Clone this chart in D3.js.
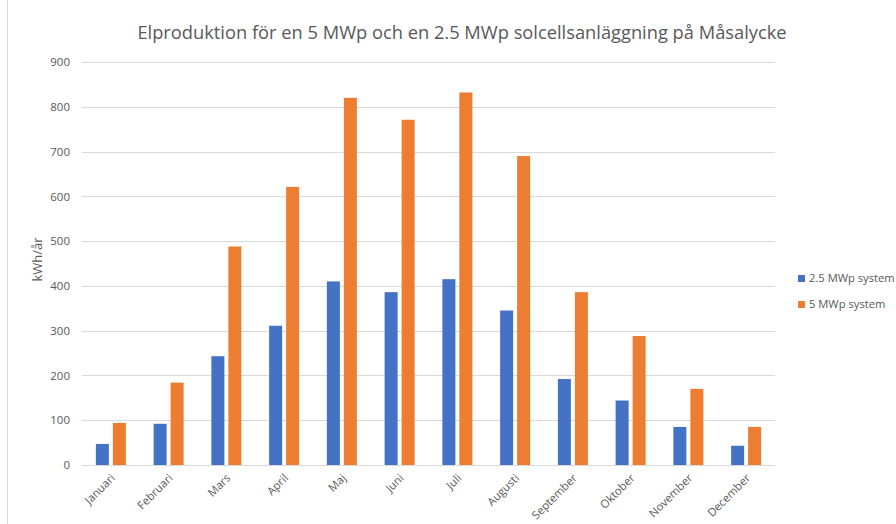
<!DOCTYPE html>
<html>
<head>
<meta charset="utf-8">
<script src="https://cdn.jsdelivr.net/npm/d3@7"></script>
<style>
  html, body { margin: 0; padding: 0; background: #fff; }
  svg { display: block; font-family: "Open Sans", "Noto Sans", sans-serif; }
</style>
</head>
<body>
<svg id="chart" width="896" height="524"></svg>
<script>
const months = ["Januari","Februari","Mars","April","Maj","Juni","Juli","Augusti","September","Oktober","November","December"];
const seriesNames = ["2.5 MWp system","5 MWp system"];
const small = [47, 92, 243, 311, 410, 386, 415, 345, 192, 144, 85, 43];
const large = [94, 184, 488, 621, 820, 771, 832, 690, 386, 288, 170, 85];
const yTicks = [0,100,200,300,400,500,600,700,800,900];
const colors = ["#4472C4", "#ED7D31"];
const title = "Elproduktion för en 5 MWp och en 2.5 MWp solcellsanläggning på Måsalycke";
const yTitle = "kWh/år";

const svg = d3.select("#chart");
const W = 896, H = 524;
const plot = {left: 82, right: 775, top: 62, bottom: 465};

svg.append("rect").attr("width", W).attr("height", H).attr("fill", "#fff");
// frame line at the left
svg.append("line").attr("x1", 7.5).attr("x2", 7.5).attr("y1", 0).attr("y2", H)
  .attr("stroke", "#d9d9d9").attr("stroke-width", 1);

const x0 = d3.scaleBand().domain(months).range([plot.left, plot.right]).paddingInner(0).paddingOuter(0);
const step = x0.bandwidth();
const groupW = 30;
const x1 = d3.scaleBand().domain(seriesNames)
  .range([(step - groupW) / 2, (step + groupW) / 2]).paddingInner(4/17);
const y = d3.scaleLinear().domain([0, 900]).range([plot.bottom, plot.top]);

// gridlines
svg.append("g").selectAll("line").data(yTicks).join("line")
  .attr("x1", plot.left).attr("x2", plot.right)
  .attr("y1", d => Math.round(y(d)) + 0.5).attr("y2", d => Math.round(y(d)) + 0.5)
  .attr("stroke", "#d9d9d9").attr("stroke-width", 1);

// y tick labels
const yAxis = d3.axisLeft(y).tickValues(yTicks).tickSize(0).tickPadding(12);
const yg = svg.append("g").attr("transform", `translate(${plot.left},0)`).call(yAxis);
yg.select(".domain").remove();
yg.selectAll("text").attr("fill", "#595959").style("font-size", "11.5px")
  .style("font-family", "'Open Sans', sans-serif");

// bars
const data = months.map((m, i) => ({month: m, values: [small[i], large[i]]}));
const groups = svg.append("g").selectAll("g").data(data).join("g")
  .attr("transform", d => `translate(${x0(d.month)},0)`);
groups.selectAll("rect").data(d => d.values.map((v, j) => ({name: seriesNames[j], v, j})))
  .join("rect")
  .attr("x", d => x1(d.name))
  .attr("width", x1.bandwidth())
  .attr("y", d => y(d.v))
  .attr("height", d => y(0) - y(d.v))
  .attr("fill", d => colors[d.j]);

// x labels
const xAxis = d3.axisBottom(x0).tickSize(0).tickPadding(0);
const xg = svg.append("g").attr("transform", `translate(0,${plot.bottom})`).call(xAxis);
xg.select(".domain").remove();
xg.selectAll("text")
  .attr("fill", "#595959").style("font-size", "11.3px")
  .style("font-family", "'Open Sans', sans-serif")
  .attr("text-anchor", "end")
  .attr("dy", null).attr("y", null)
  .attr("transform", "translate(2,11) rotate(-45)")
  .attr("dy", "0.35em");

// y title
svg.append("text")
  .attr("transform", `translate(37,${(plot.top + plot.bottom) / 2 - 4}) rotate(-90)`)
  .attr("text-anchor", "middle").attr("dy", "0.35em")
  .attr("fill", "#595959").style("font-size", "13px")
  .text(yTitle);

// title
svg.append("text").attr("x", 462).attr("y", 39)
  .attr("text-anchor", "middle")
  .attr("fill", "#595959").style("font-size", "18.3px")
  .text(title);

// legend
const lg = svg.append("g");
seriesNames.forEach((n, i) => {
  const yy = 278 + i * 26;
  lg.append("rect").attr("x", 798).attr("y", yy - 3).attr("width", 7).attr("height", 7).attr("fill", colors[i]);
  lg.append("text").attr("x", 809).attr("y", yy).attr("dy", "0.35em")
    .attr("fill", "#595959").style("font-size", "11.2px").text(n);
});
</script>
</body>
</html>
